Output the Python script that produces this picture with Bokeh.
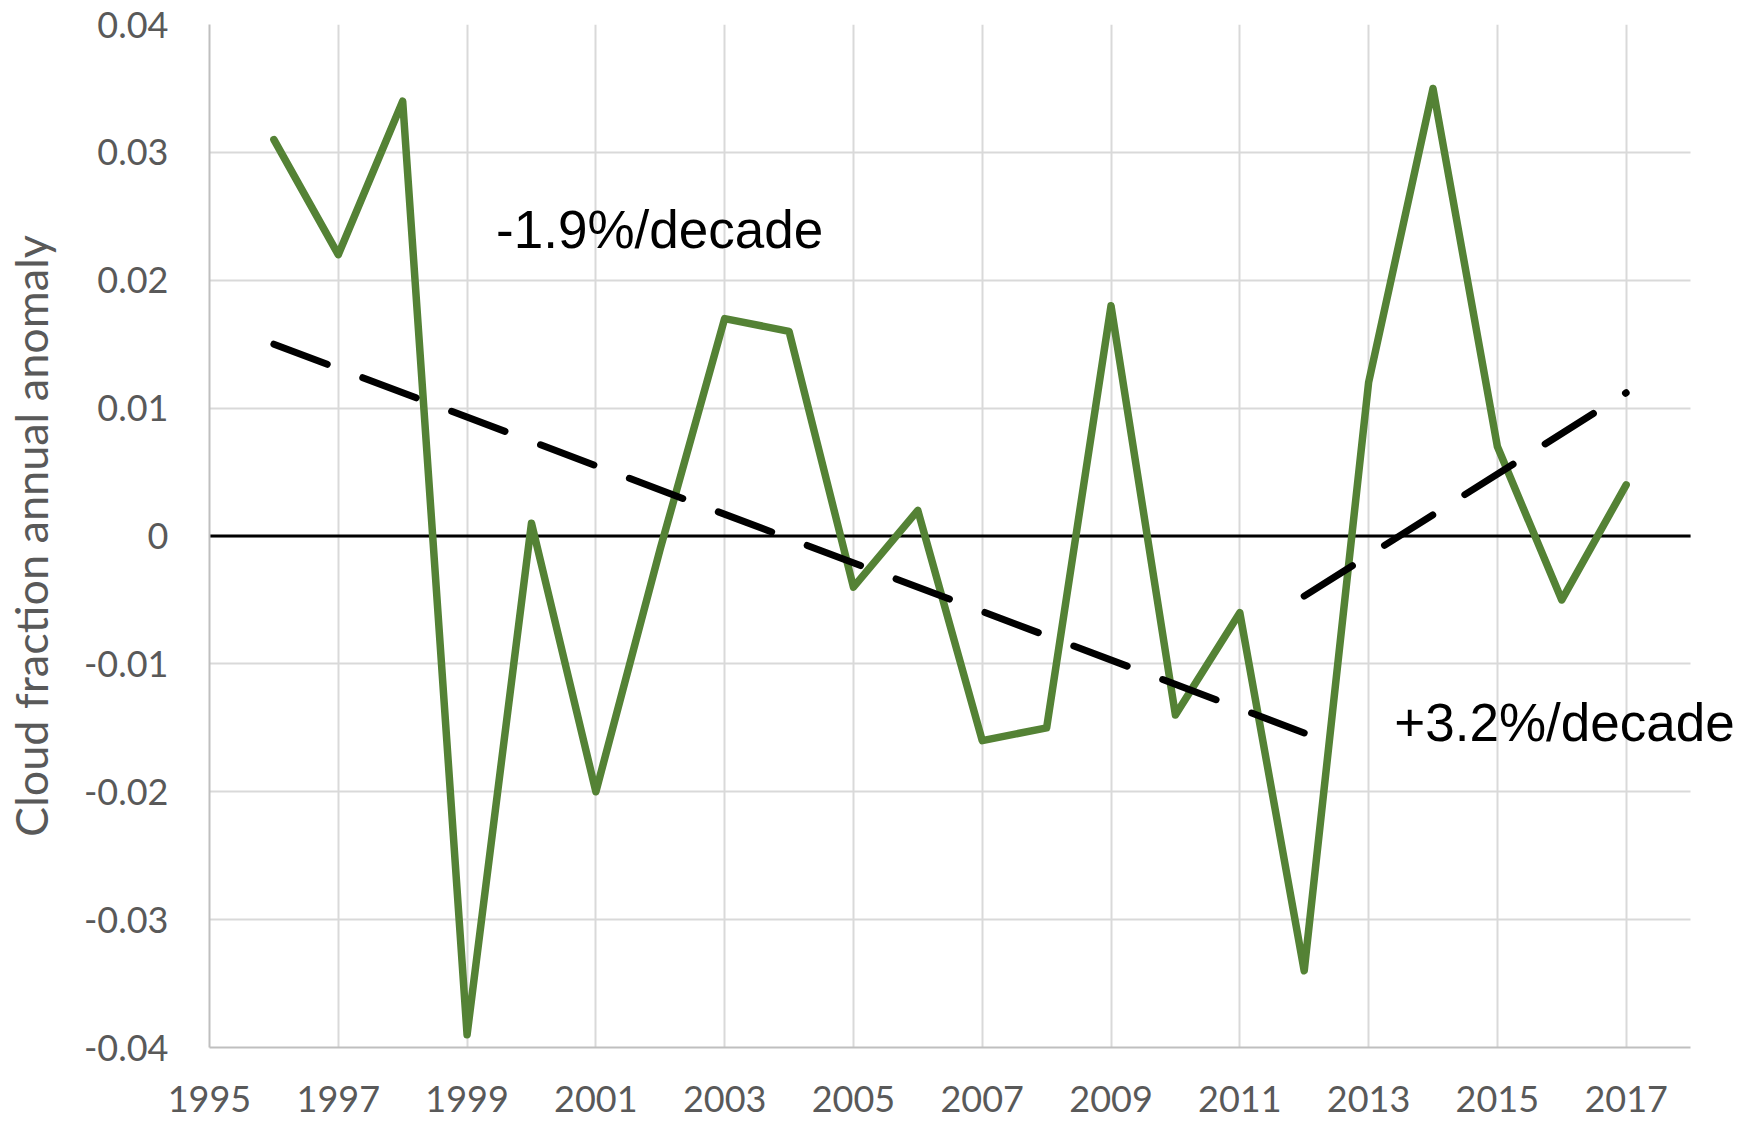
from bokeh.plotting import figure
from bokeh.models import FixedTicker, Label, ColumnDataSource, Range1d
from bokeh.embed import file_html
from bokeh.resources import INLINE

# ---- data ----
years = list(range(1996, 2018))
anomaly = [0.031, 0.022, 0.034, -0.039, 0.001, -0.020, -0.001, 0.017, 0.016,
           -0.004, 0.002, -0.016, -0.015, 0.018, -0.014, -0.006, -0.034,
           0.012, 0.035, 0.007, -0.005, 0.004]

trend1_years = [1996, 2012]
trend1_values = [0.0150, -0.0154]
trend2_years = [2012, 2017]
trend2_values = [-0.0047, 0.0112]

x_ticks = [1995, 1997, 1999, 2001, 2003, 2005, 2007, 2009, 2011, 2013, 2015, 2017]
y_ticks = [-0.04, -0.03, -0.02, -0.01, 0.0, 0.01, 0.02, 0.03, 0.04]
y_tick_labels = ["-0.04", "-0.03", "-0.02", "-0.01", "0", "0.01", "0.02", "0.03", "0.04"]

trend1_label = "-1.9%/decade"
trend2_label = "+3.2%/decade"
y_title = "Cloud fraction annual anomaly"

x_axis_start, x_axis_end = 1995, 2018
y_axis_start, y_axis_end = -0.04, 0.04
x_view_end = 2018.76      # extra room so the right label is not clipped

# annotation anchor positions (data units)
label1_pos = (1999.45, 0.0240)
label2_pos = (2013.4, -0.0146)

# ---- figure ----
p = figure(frame_width=1530, frame_height=1023, output_backend="svg",
           toolbar_location=None,
           x_range=Range1d(x_axis_start, x_view_end),
           y_range=Range1d(y_axis_start, y_axis_end),
           min_border_left=209, min_border_right=7, min_border_top=24,
           min_border_bottom=76)
p.outline_line_color = None
p.background_fill_color = "white"

grid_color = "#d9d9d9"
axis_color = "#bfbfbf"
label_color = "#595959"

p.xaxis.ticker = FixedTicker(ticks=x_ticks)
p.yaxis.ticker = FixedTicker(ticks=y_ticks)
p.yaxis.major_label_overrides = {t: l for t, l in zip(y_ticks, y_tick_labels)}
p.xaxis.major_label_overrides = {t: str(t) for t in x_ticks}
p.xaxis.bounds = (x_axis_start, x_axis_end)

for ax in (p.xaxis[0], p.yaxis[0]):
    ax.major_tick_line_color = None
    ax.minor_tick_line_color = None
    ax.major_tick_out = 0
    ax.major_tick_in = 0
    ax.axis_line_color = axis_color
    ax.axis_line_width = 2
    ax.major_label_text_font = "Lato"
    ax.major_label_text_font_size = "36px"
    ax.major_label_text_color = label_color

p.xaxis.major_label_standoff = 38
p.xaxis.major_label_text_line_height = 0.8
p.yaxis.major_label_standoff = 41
p.yaxis.axis_label = y_title
p.yaxis.axis_label_text_font = "Lato"
p.yaxis.axis_label_text_font_size = "45px"
p.yaxis.axis_label_text_font_style = "normal"
p.yaxis.axis_label_text_color = label_color
p.yaxis.axis_label_standoff = 23

p.xgrid.grid_line_color = grid_color
p.xgrid.grid_line_width = 2
p.ygrid.grid_line_color = grid_color
p.ygrid.grid_line_width = 2
p.ygrid.cross_bounds = (x_axis_start, x_axis_end)

# zero line across the axis extent
p.segment(x0=[x_axis_start], y0=[0], x1=[x_axis_end], y1=[0],
          line_color="black", line_width=3)

# series
src = ColumnDataSource(dict(x=years, y=anomaly))
p.line("x", "y", source=src, line_color="#548235", line_width=7.5,
       line_join="round", line_cap="round")

# trend lines
p.line(trend1_years, trend1_values, line_color="black", line_width=7,
       line_dash="57 38", line_cap="round")
p.line(trend2_years, trend2_values, line_color="black", line_width=7,
       line_dash="57 38", line_cap="round")

p.add_layout(Label(x=label1_pos[0], y=label1_pos[1], text=trend1_label,
                   text_font="Liberation Sans", text_font_size="53px",
                   text_color="black", text_baseline="middle", text_align="left"))
p.add_layout(Label(x=label2_pos[0], y=label2_pos[1], text=trend2_label,
                   text_font="Liberation Sans", text_font_size="53px",
                   text_color="black", text_baseline="middle", text_align="left"))

open("out.html", "w").write(file_html(p, INLINE))
